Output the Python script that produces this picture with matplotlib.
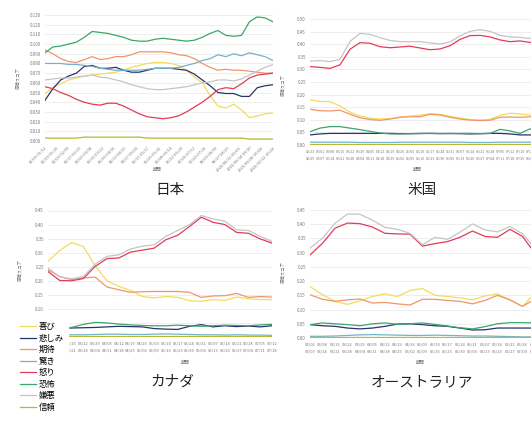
import numpy as np
import matplotlib.pyplot as plt
from matplotlib.ticker import FormatStrFormatter

plt.rcParams['font.family'] = ['Noto Sans CJK JP', 'DejaVu Sans']

emotions = ['喜び', '悲しみ', '期待', '驚き', '怒り', '恐怖', '嫌悪', '信頼']
colors = ['#f2dc5d', '#27346e', '#f0956b', '#74b3c8', '#e33b57', '#3aa66a', '#c4c4cc', '#b8b832']

# 日本
jp_joy = [0.049, 0.055, 0.059, 0.063, 0.065, 0.067, 0.068, 0.069, 0.070, 0.071, 0.073, 0.076, 0.078, 0.080, 0.081,
          0.081, 0.080, 0.078, 0.073, 0.066, 0.060, 0.047, 0.036, 0.034, 0.038, 0.032, 0.024, 0.026, 0.028, 0.029]
jp_sad = [0.042, 0.054, 0.063, 0.067, 0.070, 0.077, 0.078, 0.075, 0.075, 0.076, 0.073, 0.071, 0.071, 0.073, 0.075,
          0.075, 0.075, 0.074, 0.073, 0.069, 0.063, 0.057, 0.050, 0.049, 0.049, 0.046, 0.046, 0.055, 0.057, 0.058]
jp_ant = [0.094, 0.090, 0.085, 0.082, 0.081, 0.084, 0.087, 0.084, 0.085, 0.087, 0.087, 0.089, 0.092, 0.092, 0.092,
          0.092, 0.091, 0.089, 0.088, 0.085, 0.080, 0.076, 0.073, 0.074, 0.073, 0.073, 0.072, 0.071, 0.070, 0.070]
jp_sur = [0.080, 0.080, 0.080, 0.079, 0.079, 0.078, 0.077, 0.075, 0.074, 0.073, 0.073, 0.073, 0.073, 0.074, 0.075,
          0.075, 0.075, 0.076, 0.078, 0.080, 0.083, 0.085, 0.089, 0.087, 0.090, 0.088, 0.091, 0.089, 0.087, 0.083]
jp_ang = [0.056, 0.054, 0.050, 0.047, 0.043, 0.040, 0.038, 0.037, 0.039, 0.039, 0.036, 0.032, 0.028, 0.025, 0.024,
          0.023, 0.024, 0.026, 0.030, 0.035, 0.040, 0.046, 0.053, 0.055, 0.054, 0.059, 0.065, 0.068, 0.069, 0.070]
jp_fear = [0.091, 0.097, 0.098, 0.100, 0.102, 0.107, 0.113, 0.112, 0.111, 0.109, 0.107, 0.104, 0.103, 0.103, 0.105,
           0.106, 0.105, 0.104, 0.103, 0.104, 0.107, 0.111, 0.114, 0.109, 0.108, 0.109, 0.123, 0.128, 0.127, 0.123]
jp_disg = [0.063, 0.064, 0.065, 0.065, 0.066, 0.067, 0.068, 0.066, 0.065, 0.063, 0.061, 0.058, 0.056, 0.054, 0.053,
           0.053, 0.054, 0.055, 0.056, 0.058, 0.060, 0.061, 0.063, 0.063, 0.062, 0.064, 0.068, 0.072, 0.076, 0.079]
jp_trust = [0.003, 0.003, 0.003, 0.003, 0.003, 0.004, 0.004, 0.004, 0.004, 0.004, 0.004, 0.004, 0.004, 0.003, 0.003,
            0.003, 0.003, 0.003, 0.003, 0.003, 0.003, 0.003, 0.003, 0.003, 0.003, 0.003, 0.002, 0.002, 0.002, 0.002]
jp_weeks = ['01/06-01/12', '01/20-01/26', '02/03-02/09', '02/17-02/23', '03/02-03/08', '03/16-03/22',
            '03/30-04/05', '04/13-04/19', '04/27-05/03', '05/11-05/17', '05/25-05/31', '06/08-06/14',
            '06/22-06/28', '07/06-07/12', '07/20-07/26', '08/03-08/09', '08/17-08/23',
            '2020/08/31-09/06', '2020/09/14-09/20', '2020/09/28-10/04', '2020/10/12-10/18']

# 米国
us_joy = [0.179, 0.173, 0.172, 0.155, 0.130, 0.115, 0.107, 0.103, 0.105, 0.110, 0.115, 0.118,
          0.124, 0.122, 0.114, 0.107, 0.101, 0.099, 0.102, 0.118, 0.126, 0.123, 0.119, 0.116]
us_sad = [0.040, 0.044, 0.046, 0.046, 0.046, 0.046, 0.046, 0.046, 0.046, 0.045, 0.045, 0.046,
          0.046, 0.045, 0.046, 0.045, 0.044, 0.045, 0.046, 0.046, 0.044, 0.040, 0.040, 0.041]
us_ant = [0.142, 0.136, 0.135, 0.138, 0.122, 0.108, 0.101, 0.098, 0.103, 0.110, 0.112, 0.112,
          0.122, 0.119, 0.110, 0.103, 0.099, 0.097, 0.098, 0.110, 0.111, 0.110, 0.112, 0.112]
us_sur = [0.011, 0.011, 0.011, 0.011, 0.011, 0.010, 0.010, 0.010, 0.010, 0.011, 0.011, 0.011,
          0.011, 0.011, 0.011, 0.011, 0.010, 0.010, 0.010, 0.011, 0.011, 0.011, 0.011, 0.011]
us_ang = [0.311, 0.308, 0.304, 0.318, 0.380, 0.406, 0.404, 0.390, 0.386, 0.389, 0.392, 0.385,
          0.378, 0.381, 0.394, 0.419, 0.434, 0.435, 0.429, 0.417, 0.410, 0.413, 0.407, 0.405]
us_fear = [0.053, 0.067, 0.073, 0.073, 0.067, 0.061, 0.054, 0.048, 0.044, 0.044, 0.045, 0.045,
           0.046, 0.046, 0.045, 0.046, 0.046, 0.045, 0.046, 0.062, 0.056, 0.046, 0.064, 0.060]
us_disg = [0.333, 0.335, 0.331, 0.340, 0.411, 0.443, 0.439, 0.426, 0.415, 0.410, 0.410, 0.410,
           0.405, 0.401, 0.409, 0.433, 0.451, 0.458, 0.451, 0.435, 0.429, 0.427, 0.423, 0.421]
us_trust = [0.003, 0.003, 0.003, 0.003, 0.003, 0.003, 0.003, 0.003, 0.003, 0.003, 0.003, 0.003,
            0.003, 0.003, 0.003, 0.003, 0.003, 0.003, 0.003, 0.003, 0.003, 0.003, 0.003, 0.003]
us_weeks = ['02/23\n02/29', '03/01\n03/07', '03/08\n03/14', '03/15\n03/21', '03/22\n03/28', '03/29\n04/04',
            '04/05\n04/11', '04/12\n04/18', '04/19\n04/25', '04/26\n05/02', '05/03\n05/09', '05/10\n05/16',
            '05/17\n05/23', '05/24\n05/30', '05/31\n06/06', '06/07\n06/13', '06/14\n06/20', '06/21\n06/27',
            '06/28\n07/04', '07/05\n07/11', '07/12\n07/18', '07/19\n07/25', '07/26\n08/01', '08/02\n08/08']

# カナダ
ca_joy = [0.269, 0.308, 0.336, 0.322, 0.253, 0.200, 0.180, 0.166, 0.144, 0.139,
          0.144, 0.141, 0.129, 0.127, 0.133, 0.130, 0.142, 0.136, 0.133, 0.133]
ca_sad = [0.032, 0.032, 0.032, 0.033, 0.034, 0.036, 0.038, 0.037, 0.036, 0.030,
          0.028, 0.027, 0.038, 0.044, 0.036, 0.040, 0.037, 0.039, 0.036, 0.040]
ca_ant = [0.239, 0.215, 0.204, 0.210, 0.213, 0.178, 0.168, 0.159, 0.161, 0.162,
          0.162, 0.162, 0.159, 0.141, 0.146, 0.147, 0.155, 0.141, 0.144, 0.142]
ca_sur = [0.007, 0.007, 0.008, 0.008, 0.009, 0.010, 0.010, 0.009, 0.009, 0.010,
          0.011, 0.010, 0.009, 0.008, 0.008, 0.007, 0.008, 0.007, 0.007, 0.006]
ca_ang = [0.233, 0.201, 0.200, 0.208, 0.251, 0.279, 0.281, 0.302, 0.309, 0.316,
          0.346, 0.362, 0.393, 0.426, 0.408, 0.400, 0.372, 0.369, 0.349, 0.334]
ca_fear = [0.030, 0.032, 0.034, 0.045, 0.052, 0.050, 0.046, 0.043, 0.041, 0.040,
           0.040, 0.042, 0.040, 0.038, 0.040, 0.042, 0.041, 0.040, 0.043, 0.045]
ca_disg = [0.245, 0.214, 0.207, 0.215, 0.259, 0.287, 0.292, 0.313, 0.323, 0.328,
           0.358, 0.379, 0.399, 0.432, 0.420, 0.412, 0.381, 0.379, 0.358, 0.340]
ca_trust = [0.003, 0.003, 0.003, 0.003, 0.003, 0.003, 0.003, 0.003, 0.003, 0.003,
            0.003, 0.003, 0.003, 0.003, 0.003, 0.003, 0.003, 0.003, 0.003, 0.003]
ca_weeks = ['03/01\n03/07', '03/08\n03/14', '03/15\n03/21', '03/22\n03/28', '03/29\n04/04',
            '04/05\n04/11', '04/12\n04/18', '04/19\n04/25', '04/26\n05/02', '05/03\n05/09',
            '05/10\n05/16', '05/17\n05/23', '05/24\n05/30', '05/31\n06/06', '06/07\n06/13',
            '06/14\n06/20', '06/21\n06/27', '06/28\n07/04', '07/05\n07/11', '07/12\n07/18']

# オーストラリア
au_joy = [0.181, 0.152, 0.129, 0.118, 0.131, 0.146, 0.155, 0.146, 0.167, 0.174,
          0.150, 0.146, 0.141, 0.134, 0.148, 0.155, 0.134, 0.111, 0.158, 0.164]
au_sad = [0.047, 0.043, 0.041, 0.035, 0.032, 0.035, 0.041, 0.049, 0.050, 0.047,
          0.043, 0.041, 0.035, 0.028, 0.029, 0.035, 0.035, 0.035, 0.035, 0.035]
au_ant = [0.152, 0.136, 0.129, 0.134, 0.137, 0.123, 0.125, 0.120, 0.116, 0.136,
          0.136, 0.132, 0.129, 0.120, 0.132, 0.150, 0.134, 0.111, 0.137, 0.140]
au_sur = [0.006, 0.006, 0.007, 0.009, 0.011, 0.012, 0.011, 0.010, 0.009, 0.009,
          0.010, 0.009, 0.008, 0.007, 0.007, 0.006, 0.005, 0.004, 0.004, 0.004]
au_ang = [0.292, 0.333, 0.386, 0.404, 0.402, 0.390, 0.368, 0.366, 0.365, 0.323,
          0.332, 0.339, 0.354, 0.376, 0.357, 0.354, 0.382, 0.357, 0.298, 0.286]
au_fear = [0.047, 0.053, 0.050, 0.047, 0.043, 0.050, 0.053, 0.048, 0.050, 0.053,
           0.048, 0.042, 0.036, 0.032, 0.040, 0.050, 0.054, 0.054, 0.053, 0.051]
au_disg = [0.316, 0.351, 0.403, 0.436, 0.435, 0.414, 0.389, 0.382, 0.368, 0.328,
           0.354, 0.347, 0.372, 0.401, 0.380, 0.373, 0.392, 0.366, 0.316, 0.298]
au_trust = [0.002, 0.002, 0.002, 0.002, 0.002, 0.002, 0.002, 0.002, 0.002, 0.002,
            0.002, 0.002, 0.002, 0.002, 0.002, 0.002, 0.002, 0.002, 0.002, 0.002]
au_weeks = ['03/01\n03/07', '03/08\n03/14', '03/15\n03/21', '03/22\n03/28', '03/29\n04/04',
            '04/05\n04/11', '04/12\n04/18', '04/19\n04/25', '04/26\n05/02', '05/03\n05/09',
            '05/10\n05/16', '05/17\n05/23', '05/24\n05/30', '05/31\n06/06', '06/07\n06/13',
            '06/14\n06/20', '06/21\n06/27', '06/28\n07/04', '07/05\n07/11', '07/12\n07/18']


def panel(ax, series, ytop, ystep, fmt, labels, rotate, xsize):
    x = np.arange(len(series[0]))
    lines = []
    for vals, c in zip(series, colors):
        ln, = ax.plot(x, vals, color=c, lw=0.9)
        lines.append(ln)
    ax.set_xlim(0, len(x) - 1)
    ax.set_ylim(0, ytop)
    ax.set_yticks(np.arange(0, ytop + ystep / 2, ystep))
    ax.yaxis.set_major_formatter(FormatStrFormatter(fmt))
    if rotate:
        ax.set_xticks(np.linspace(0, len(x) - 1, len(labels)))
        ax.set_xticklabels(labels, rotation=45, ha='right', rotation_mode='anchor')
    else:
        ax.set_xticks(x)
        ax.set_xticklabels(labels, linespacing=2.2)
    ax.grid(axis='y', color='#e8e8e8', lw=0.5)
    ax.set_axisbelow(True)
    for s in ax.spines.values():
        s.set_visible(False)
    ax.tick_params(length=0, labelsize=3.2, labelcolor='#777777', pad=3)
    ax.tick_params(axis='x', labelsize=xsize)
    return lines


fig = plt.figure(figsize=(5.31, 4.21), dpi=100)
W, H = 531, 421

ax_jp = fig.add_axes([45 / W, 1 - 141 / H, 228 / W, 126 / H])
ax_us = fig.add_axes([310 / W, 1 - 145 / H, 230 / W, 126 / H])
ax_ca = fig.add_axes([48 / W, 1 - 337 / H, 224 / W, 126.5 / H])
ax_au = fig.add_axes([310 / W, 1 - 338 / H, 237.5 / W, 128 / H])

handles = panel(ax_jp, [jp_joy, jp_sad, jp_ant, jp_sur, jp_ang, jp_fear, jp_disg, jp_trust],
                0.130, 0.010, '%.3f', jp_weeks, True, 2.9)
panel(ax_us, [us_joy, us_sad, us_ant, us_sur, us_ang, us_fear, us_disg, us_trust],
      0.50, 0.05, '%.2f', us_weeks, False, 2.6)
panel(ax_ca, [ca_joy, ca_sad, ca_ant, ca_sur, ca_ang, ca_fear, ca_disg, ca_trust],
      0.45, 0.05, '%.2f', ca_weeks, False, 2.9)
panel(ax_au, [au_joy, au_sad, au_ant, au_sur, au_ang, au_fear, au_disg, au_trust],
      0.45, 0.05, '%.2f', au_weeks, False, 2.9)

# 軸ラベル
for (px, py) in [(18, 78), (283, 85), (20, 270), (283, 272)]:
    fig.text(px / W, 1 - py / H, '感情スコア', rotation=90, fontsize=3.2, color='#777777',
             ha='center', va='center')
for (px, py) in [(157, 169), (417, 169), (185, 362), (420, 362)]:
    fig.text(px / W, 1 - py / H, '期間', fontsize=3.2, color='#777777', ha='center', va='center')

# 国名
for name, (px, py) in [('日本', (170, 190)), ('米国', (422, 190)),
                       ('カナダ', (172, 382)), ('オーストラリア', (422, 382))]:
    fig.text(px / W, 1 - py / H, name, fontsize=10.5, ha='center', va='center', color='#222222')

fig.legend(handles, emotions, loc='upper left', bbox_to_anchor=(16 / W, 1 - 318 / H),
           fontsize=6, frameon=True, facecolor='white', edgecolor='white', framealpha=1,
           borderpad=0.5, labelspacing=0.3, handlelength=1.9, handletextpad=0.35,
           borderaxespad=0)

fig.savefig('out.png', dpi=100)
